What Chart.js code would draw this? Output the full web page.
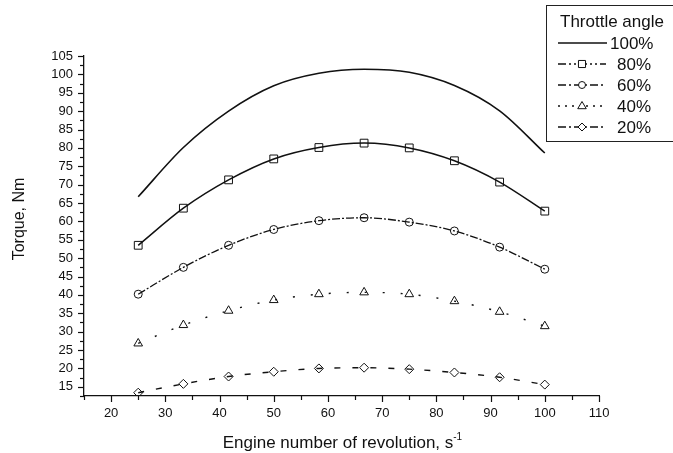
<!DOCTYPE html>
<html>
<head>
<meta charset="utf-8">
<title>Torque vs engine revolution</title>
<script src="https://cdn.jsdelivr.net/npm/chart.js@4.4.1/dist/chart.umd.min.js"></script>
<style>
  html, body { margin: 0; padding: 0; background: #fff; }
  #wrap { width: 673px; height: 453px; }
</style>
</head>
<body>
<div id="wrap"><canvas id="torqueChart" width="673" height="453"></canvas></div>
<script>
// engine speed, s^-1
const revs = [25, 33.33, 41.67, 50, 58.33, 66.67, 75, 83.33, 91.67, 100];

// torque, Nm, per throttle angle
const torque100 = [66.7, 80.1, 90.0, 96.9, 100.3, 101.4, 100.6, 97.0, 90.1, 78.6];
const torque80 = [53.5, 63.6, 71.3, 77.0, 80.1, 81.3, 80.0, 76.5, 70.7, 62.8];
const torque60 = [40.2, 47.5, 53.5, 57.8, 60.2, 61.0, 59.8, 57.4, 53.0, 47.0];
const torque40 = [26.8, 31.8, 35.7, 38.6, 40.2, 40.7, 40.2, 38.3, 35.4, 31.5];
const torque20 = [13.4, 15.8, 17.8, 19.1, 20.0, 20.2, 19.8, 18.9, 17.6, 15.6];

const seriesLabels = ['100%', '80%', '60%', '40%', '20%'];
const legendTitle = 'Throttle angle';
const xTitle = 'Engine number of revolution, s';
const yTitle = 'Torque, Nm';

const FONT = '"Liberation Sans", Arial, sans-serif';

function toPoints(ys) {
  return revs.map((x, i) => ({ x: x, y: ys[i] }));
}

// small marker drawer, used for the legend samples
function drawMarker(ctx, style, x, y, r) {
  ctx.beginPath();
  if (style === 'rect') {
    const s = r * Math.SQRT1_2;
    ctx.rect(x - s, y - s, 2 * s, 2 * s);
  } else if (style === 'circle') {
    ctx.arc(x, y, r, 0, Math.PI * 2);
  } else if (style === 'triangle') {
    ctx.moveTo(x, y - r);
    ctx.lineTo(x + r * 0.95, y + r * 0.6);
    ctx.lineTo(x - r * 0.95, y + r * 0.6);
    ctx.closePath();
  } else if (style === 'rectRot') {
    ctx.moveTo(x, y - r);
    ctx.lineTo(x + r, y);
    ctx.lineTo(x, y + r);
    ctx.lineTo(x - r, y);
    ctx.closePath();
  }
  ctx.fillStyle = '#fff';
  ctx.fill();
  ctx.stroke();
}

// major / minor tick marks pointing outwards
const tickPlugin = {
  id: 'outTicks',
  afterDraw(chart) {
    const ctx = chart.ctx;
    const xs = chart.scales.x, ys = chart.scales.y;
    ctx.save();
    ctx.strokeStyle = '#111';
    ctx.lineWidth = 1.2;
    xs.ticks.forEach(t => {
      const px = Math.round(xs.getPixelForValue(t.value)) + 0.5;
      const len = t.value % 10 === 0 ? 6 : 4;
      ctx.beginPath();
      ctx.moveTo(px, xs.top);
      ctx.lineTo(px, xs.top + len);
      ctx.stroke();
    });
    ys.ticks.forEach(t => {
      const py = Math.round(ys.getPixelForValue(t.value)) + 0.5;
      const len = t.value % 5 === 0 ? 6 : 4;
      ctx.beginPath();
      ctx.moveTo(ys.right, py);
      ctx.lineTo(ys.right - len, py);
      ctx.stroke();
    });
    ctx.restore();
  }
};

// axis titles (x title has a superscript -1)
const titlePlugin = {
  id: 'axisTitles',
  afterDraw(chart) {
    const ctx = chart.ctx;
    ctx.save();
    ctx.fillStyle = '#111';
    ctx.textBaseline = 'alphabetic';
    ctx.font = '17px ' + FONT;
    const w = ctx.measureText(xTitle).width;
    const x0 = 342 - (w + 8) / 2;
    ctx.fillText(xTitle, x0, 448);
    ctx.font = '10px ' + FONT;
    ctx.fillText('-1', x0 + w, 440);

    ctx.translate(24, 219);
    ctx.rotate(-Math.PI / 2);
    ctx.font = '16px ' + FONT;
    ctx.textAlign = 'center';
    ctx.fillText(yTitle, 0, 0);
    ctx.restore();
  }
};

// boxed legend in the top-right corner
const legendPlugin = {
  id: 'boxLegend',
  afterDraw(chart) {
    const ctx = chart.ctx;
    ctx.save();
    ctx.fillStyle = '#fff';
    ctx.fillRect(546.5, 5.5, 140, 136);
    ctx.strokeStyle = '#222';
    ctx.lineWidth = 1;
    ctx.strokeRect(546.5, 5.5, 140, 136);

    ctx.fillStyle = '#111';
    ctx.font = '17px ' + FONT;
    ctx.textBaseline = 'middle';
    ctx.fillText(legendTitle, 560, 22);

    const legendDash = [[], [8, 3, 2, 3, 2, 3], [8, 3, 2, 3], [2, 5], [8, 3, 2, 3]];
    chart.data.datasets.forEach((ds, i) => {
      const y = 43 + i * 21;
      ctx.strokeStyle = '#111';
      ctx.lineWidth = 1.3;
      ctx.setLineDash(legendDash[i]);
      ctx.beginPath();
      ctx.moveTo(558, y);
      ctx.lineTo(i === 0 ? 607 : 606, y);
      ctx.stroke();
      ctx.setLineDash([]);
      if (ds.pointRadius > 0) {
        ctx.lineWidth = 1;
        drawMarker(ctx, ds.pointStyle, 582, y, ds.pointRadius - 0.5);
      }
      ctx.fillStyle = '#111';
      ctx.fillText(ds.label, i === 0 ? 610 : 617, y + 1);
    });
    ctx.restore();
  }
};

function line(label, ys, style, radius, dash, width) {
  return {
    label: label,
    data: toPoints(ys),
    borderColor: '#111',
    borderWidth: width,
    borderDash: dash,
    pointStyle: style,
    pointRadius: radius,
    pointBorderColor: '#111',
    pointBackgroundColor: 'rgba(255,255,255,0)',
    pointBorderWidth: 1,
    cubicInterpolationMode: 'monotone',
    fill: false
  };
}

new Chart(document.getElementById('torqueChart'), {
  type: 'line',
  data: {
    datasets: [
      line(seriesLabels[0], torque100, 'circle', 0, [], 1.6),
      line(seriesLabels[1], torque80, 'rect', 5.5, [], 1.5),
      line(seriesLabels[2], torque60, 'circle', 4, [8, 2, 2, 2], 1.3),
      line(seriesLabels[3], torque40, 'triangle', 5, [2, 16], 1.4),
      line(seriesLabels[4], torque20, 'rectRot', 4.5, [6, 12], 1.4)
    ]
  },
  options: {
    responsive: false,
    animation: false,
    layout: { padding: { left: 0, top: 56, right: 74, bottom: 0 } },
    plugins: {
      legend: { display: false },
      tooltip: { enabled: false }
    },
    scales: {
      x: {
        type: 'linear',
        min: 15,
        max: 110,
        afterFit: s => { s.height = 57; },
        grid: { display: false, drawTicks: false },
        border: { display: true, color: '#111', width: 1.3 },
        ticks: {
          stepSize: 5,
          autoSkip: false,
          maxRotation: 0,
          padding: 10,
          color: '#111',
          font: { family: FONT, size: 13 },
          callback: v => (v % 10 === 0 ? String(v) : '')
        }
      },
      y: {
        min: 12.5,
        max: 105,
        afterFit: s => { s.width = 84; },
        grid: { display: false, drawTicks: false },
        border: { display: true, color: '#111', width: 1.3 },
        ticks: {
          stepSize: 2.5,
          autoSkip: false,
          padding: 11,
          color: '#111',
          font: { family: FONT, size: 13 },
          callback: v => (v % 5 === 0 ? String(v) : '')
        }
      }
    }
  },
  plugins: [tickPlugin, titlePlugin, legendPlugin]
});
</script>
</body>
</html>
